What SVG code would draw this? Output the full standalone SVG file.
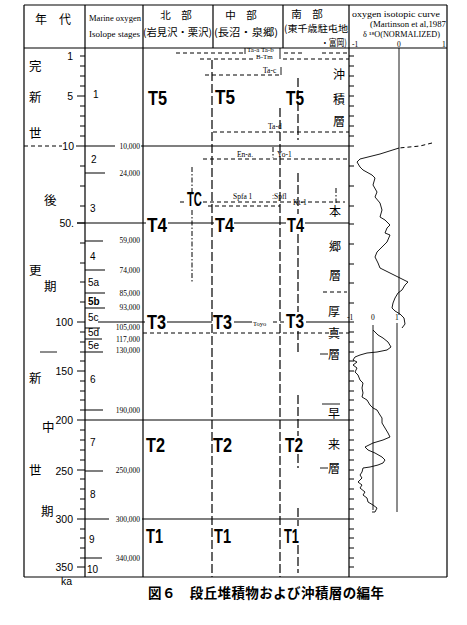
<svg xmlns="http://www.w3.org/2000/svg" width="467" height="625" viewBox="0 0 467 625">
<style>
.ln{stroke:#000;stroke-width:1.2;fill:none}
.th{stroke:#000;stroke-width:0.9;fill:none}
.ds{stroke:#000;stroke-width:1;fill:none;stroke-dasharray:4 3}
.ld{stroke:#000;stroke-width:1.2;fill:none;stroke-dasharray:9 3}
.dd{stroke:#000;stroke-width:1;fill:none;stroke-dasharray:5 2 1.5 2}
.jp{font-family:"Noto Sans CJK JP",sans-serif;fill:#000}
.sm{font-family:"Liberation Serif",serif;font-size:7.5px;fill:#000}
.ax{font-family:"Liberation Sans",sans-serif;font-size:10.5px;fill:#000}
.st{font-family:"Liberation Sans",sans-serif;font-size:10px;fill:#000}
.T{font-family:"Liberation Sans",sans-serif;font-weight:bold;font-size:21px;fill:#000}
.tk{stroke:#000;stroke-width:1}
</style>
<rect width="467" height="625" fill="#fff"/>

<g id="frame">
  <path class="ln" d="M24 5 H447 M24 48 H447 M24 5 V577 M24 577 H447 M447 5 V577 M85 5 V577 M143 5 V577 M213 5 V48 M283 5 V48 M349 5 V577"/>
</g>

<g id="header">
  <text class="jp" x="35" y="24" font-size="12">年　代</text>
  <text class="sm" x="89" y="21" font-size="8" textLength="52" lengthAdjust="spacingAndGlyphs">Marine oxygen</text>
  <text class="sm" x="89" y="37" font-size="8" textLength="51" lengthAdjust="spacingAndGlyphs">Isolope stages</text>
  <text class="jp" x="176" y="19" font-size="10.5" text-anchor="middle">北　部</text>
  <text class="jp" x="143" y="36" font-size="10" textLength="69" lengthAdjust="spacingAndGlyphs">(岩見沢・栗沢)</text>
  <text class="jp" x="241" y="19" font-size="10.5" text-anchor="middle">中　部</text>
  <text class="jp" x="214" y="36" font-size="10" textLength="64" lengthAdjust="spacingAndGlyphs">(長沼・泉郷)</text>
  <text class="jp" x="307" y="18" font-size="10.5" text-anchor="middle">南　部</text>
  <text class="jp" x="284" y="32" font-size="9.5" textLength="64" lengthAdjust="spacingAndGlyphs">(東千歳駐屯地</text>
  <text class="jp" x="321" y="45.5" font-size="9.5" textLength="26" lengthAdjust="spacingAndGlyphs">・富岡)</text>
  <text class="sm" x="352" y="17" textLength="88" lengthAdjust="spacingAndGlyphs">oxygen isotopic curve</text>
  <text class="sm" x="370" y="27" textLength="76" lengthAdjust="spacingAndGlyphs">(Martinson et al,1987</text>
  <text class="sm" x="363" y="37" font-size="7" textLength="77" lengthAdjust="spacingAndGlyphs">δ ¹⁸O(NORMALIZED)</text>
  <text class="sm" x="352" y="46.5" font-size="7">-1</text>
  <text class="sm" x="397" y="46.5" font-size="7">0</text>
  <text class="sm" x="442" y="46.5" font-size="7">1</text>
</g>

<g id="era">
  <text class="jp" x="29" y="71" font-size="12.5">完</text>
  <text class="jp" x="29" y="102" font-size="12.5">新</text>
  <text class="jp" x="29" y="138" font-size="12.5">世</text>
  <text class="jp" x="44" y="205" font-size="12.5">後</text>
  <text class="jp" x="29" y="275" font-size="12.5">更</text>
  <text class="jp" x="44" y="291" font-size="12.5">期</text>
  <text class="jp" x="29" y="383" font-size="12.5">新</text>
  <text class="jp" x="42" y="432" font-size="12.5">中</text>
  <text class="jp" x="29" y="475" font-size="12.5">世</text>
  <text class="jp" x="41" y="516" font-size="12.5">期</text>
  <path class="th" d="M40 352 H57"/>
</g>

<g id="age-axis">
  <path class="tk" d="M80 56H85M80 66H85M80 76H85M80 86H85M77 96H85M80 106H85M80 116H85M80 126H85M80 136H85M76 146H85
  M80 166H85M80 186H85M80 206H85M77 223H85M80 243H85M80 263H85M80 282H85M80 302H85M77 322H85
  M80 332H85M80 342H85M80 352H85M80 361H85M77 371H85M80 381H85M80 391H85M80 400H85M80 410H85M77 420H85
  M80 430H85M80 440H85M80 450H85M80 460H85M77 470H85M80 479H85M80 489H85M80 499H85M80 509H85M77 519H85
  M80 529H85M80 538H85M80 548H85M80 558H85M77 567H85"/>
  <text class="ax" x="73" y="60" text-anchor="end">1</text>
  <text class="ax" x="73" y="100" text-anchor="end">5</text>
  <text class="ax" x="74" y="150" text-anchor="end">10</text>
  <text class="ax" x="74" y="227" text-anchor="end">50.</text>
  <text class="ax" x="73" y="326" text-anchor="end">100</text>
  <text class="ax" x="73" y="375" text-anchor="end">150</text>
  <text class="ax" x="73" y="424" text-anchor="end">200</text>
  <text class="ax" x="73" y="475" text-anchor="end">250</text>
  <text class="ax" x="73" y="523" text-anchor="end">300</text>
  <text class="ax" x="73" y="571" text-anchor="end">350</text>
  <text class="ax" x="61" y="585">ka</text>
</g>

<g id="stages">
  <path class="ln" d="M85 173H105M85 241H103M85 270H105M85 293H105M85 308H105M85 328H100M85 339H102M85 352H103M85 410H103M85 471H103M85 558H102"/>
  <text class="st" x="93" y="98">1</text>
  <text class="st" x="91" y="163">2</text>
  <text class="st" x="90" y="212">3</text>
  <text class="st" x="90" y="260">4</text>
  <text class="st" x="88" y="286">5a</text>
  <text class="st" x="88" y="305" font-weight="bold">5b</text>
  <text class="st" x="88" y="321">5c</text>
  <text class="st" x="88" y="336">5d</text>
  <text class="st" x="88" y="349">5e</text>
  <text class="st" x="90" y="383">6</text>
  <text class="st" x="90" y="446">7</text>
  <text class="st" x="90" y="498">8</text>
  <text class="st" x="89" y="543">9</text>
  <text class="st" x="87" y="573">10</text>
  <g class="sm" text-anchor="end" font-size="7.5">
    <text x="140" y="148.5">10,000</text>
    <text x="140" y="175.5">24,000</text>
    <text x="140" y="243">59,000</text>
    <text x="140" y="273">74,000</text>
    <text x="140" y="296">85,000</text>
    <text x="140" y="310">93,000</text>
    <text x="140" y="330">105,000</text>
    <text x="140" y="342">117,000</text>
    <text x="140" y="353">130,000</text>
    <text x="140" y="413">190,000</text>
    <text x="140" y="473">250,000</text>
    <text x="140" y="521.5">300,000</text>
    <text x="140" y="561">340,000</text>
  </g>
</g>

<g id="connectors">
  <path class="ds" d="M24 146H62"/>
  <path class="ln" d="M85 146H115M141 146H349"/>
  <path class="ln" d="M77 223H146M168 223H214M234 223H286M305 223H349"/>
  <path class="ln" d="M98 322H145M167 322H212M234 322H252M306 322H349"/>
  <path class="ds" d="M273 322H284"/>
  <path class="ln" d="M85 420H349"/>
  <path class="ln" d="M85 519H109M142 519H349"/>
  <path class="ds" d="M143 333H349"/>
  <path class="ds" d="M176 53H244M284 53H305M322 53H349"/>
  <path class="th" d="M245 48V54"/>
  <path class="ds" d="M200 59H255M283 59H349"/>
  <path class="th" d="M280 48V59"/>
  <path class="ds" d="M205 75H280"/>
  <path class="th" d="M281 67V75"/>
  <path class="ds" d="M213 132H349"/>
  <path class="ds" d="M203 159H349"/>
  <path class="dd" d="M273 147V158"/>
  <path class="ds" d="M180 202H187M203 202H345"/>
  <path class="ds" d="M208 206H280"/>
  <path class="ld" d="M212 60V577"/>
  <path class="ld" d="M280 108V577"/>
  <path class="ld" d="M298 78V140M298 173V214M298 234V312M298 331V353M298 395V436M298 454V468M298 508V526M298 545V573"/>
  <path class="dd" d="M192 167V195M192 210V283"/>
  <path class="dd" d="M336 188V203"/>
  <path class="ds" d="M323 292H347"/>
  <path class="th" d="M320 354H328M322 404H340M320 468H328"/>
</g>

<g id="terraces-north">
  <text class="T" x="148" y="105" textLength="19" lengthAdjust="spacingAndGlyphs">T5</text>
  <text class="T" x="187" y="206" font-size="14" textLength="15" lengthAdjust="spacingAndGlyphs">TC</text>
  <text class="T" x="147" y="232" textLength="20" lengthAdjust="spacingAndGlyphs">T4</text>
  <text class="T" x="147" y="329" textLength="19" lengthAdjust="spacingAndGlyphs">T3</text>
  <text class="T" x="146" y="452" textLength="19" lengthAdjust="spacingAndGlyphs">T2</text>
  <text class="T" x="146" y="543" textLength="17" lengthAdjust="spacingAndGlyphs">T1</text>
</g>
<g id="terraces-middle">
  <text class="T" x="215" y="104" textLength="20" lengthAdjust="spacingAndGlyphs">T5</text>
  <text class="T" x="215" y="232" textLength="19" lengthAdjust="spacingAndGlyphs">T4</text>
  <text class="T" x="213" y="329" textLength="19" lengthAdjust="spacingAndGlyphs">T3</text>
  <text class="T" x="213" y="452" textLength="19" lengthAdjust="spacingAndGlyphs">T2</text>
  <text class="T" x="214" y="543" textLength="17" lengthAdjust="spacingAndGlyphs">T1</text>
</g>
<g id="terraces-south">
  <text class="T" x="286" y="105" textLength="18" lengthAdjust="spacingAndGlyphs">T5</text>
  <text class="T" x="287" y="232" textLength="17" lengthAdjust="spacingAndGlyphs">T4</text>
  <text class="T" x="286" y="328" textLength="18" lengthAdjust="spacingAndGlyphs">T3</text>
  <text class="T" x="285" y="452" textLength="18" lengthAdjust="spacingAndGlyphs">T2</text>
  <text class="T" x="284" y="543" textLength="15" lengthAdjust="spacingAndGlyphs">T1</text>
</g>

<g id="tephra" class="sm">
  <text x="247" y="52" font-size="7">Ta-a Ta-b</text>
  <text x="256" y="59" font-size="7">B-Tm</text>
  <text x="263" y="73">Ta-c</text>
  <text x="268" y="129">Ta-d</text>
  <text x="237" y="157">En-a.</text>
  <text x="277" y="157">Yo-1</text>
  <text x="233" y="199">Spfa 1</text>
  <text x="272" y="199">:Spfl</text>
  <text x="293" y="205">Kt-1</text>
  <text x="253" y="326" font-size="6.5">Toyo</text>
</g>

<g id="formations" class="jp" font-size="12">
  <text x="333" y="79">沖</text>
  <text x="333" y="104">積</text>
  <text x="333" y="126">層</text>
  <text x="329" y="216">本</text>
  <text x="329" y="251">郷</text>
  <text x="329" y="280">層</text>
  <text x="328" y="316">厚</text>
  <text x="328" y="338">真</text>
  <text x="328" y="359">層</text>
  <text x="328" y="418">早</text>
  <text x="328" y="449">来</text>
  <text x="328" y="473">層</text>
</g>

<g id="curve">
  <path class="tk" d="M349 56h5M349 66h5M349 76h5M349 86h5M349 96h5M349 106h5M349 116h5M349 126h5M349 136h5M349 146h5
  M349 166h5M349 186h5M349 206h5M349 224h5M349 244h5M349 264h5M349 283h5M349 303h5M349 322h5
  M349 332h5M349 342h5M349 352h5M349 361h5M349 371h5M349 381h5M349 391h5M349 400h5M349 410h5M349 420h5
  M349 430h5M349 440h5M349 450h5M349 460h5M349 470h5M349 479h5M349 489h5M349 499h5M349 509h5M349 519h5
  M349 529h5M349 538h5M349 548h5M349 558h5M349 567h5"/>
  <path class="th" d="M399 48V315M397 323V512M373 325V510"/>
  <text class="sm" x="347" y="320">-1</text>
  <text class="sm" x="371" y="320">0</text>
  <text class="sm" x="395" y="320">1</text>
  <path class="ds" d="M432 143L420 146L399 148"/>
  <path class="th" d="M399 148L380 154L360 159L357 162L360 167L363 170L372 175L375 178L373 185L377 192L375 197L380 203L382 210L380 217L385 220L390 225L387 228L385 233L390 235L387 242L382 247L377 252L375 257L378 263L380 268L388 272L398 277L408 282L405 285L402 290L398 293L395 298L393 303L392 308L395 311L400 314L404 318L405 324L402 328"/>
  <path class="th" d="M373 330L378 335L383 338L388 342L391 347L387 350L377 352L367 353L360 355L355 357L353 360L357 362L353 365L357 368L355 372L358 375L360 380L363 383L362 388L363 393L362 397L367 400L370 405L373 408L377 410L380 415L382 418L382 423L385 428L388 433L390 437L383 440L373 443L365 447L368 450L375 453L382 457L385 460L383 463L378 465L370 467L363 468L362 472L360 475L362 478L358 482L362 485L360 488L365 492L363 495L367 498L368 502L373 505L377 508L375 512L372 512"/>
</g>

<g id="caption">
  <text class="jp" x="148" y="598" font-size="13.5" font-weight="bold" textLength="236" lengthAdjust="spacing">図６　段丘堆積物および沖積層の編年</text>
</g>
</svg>
